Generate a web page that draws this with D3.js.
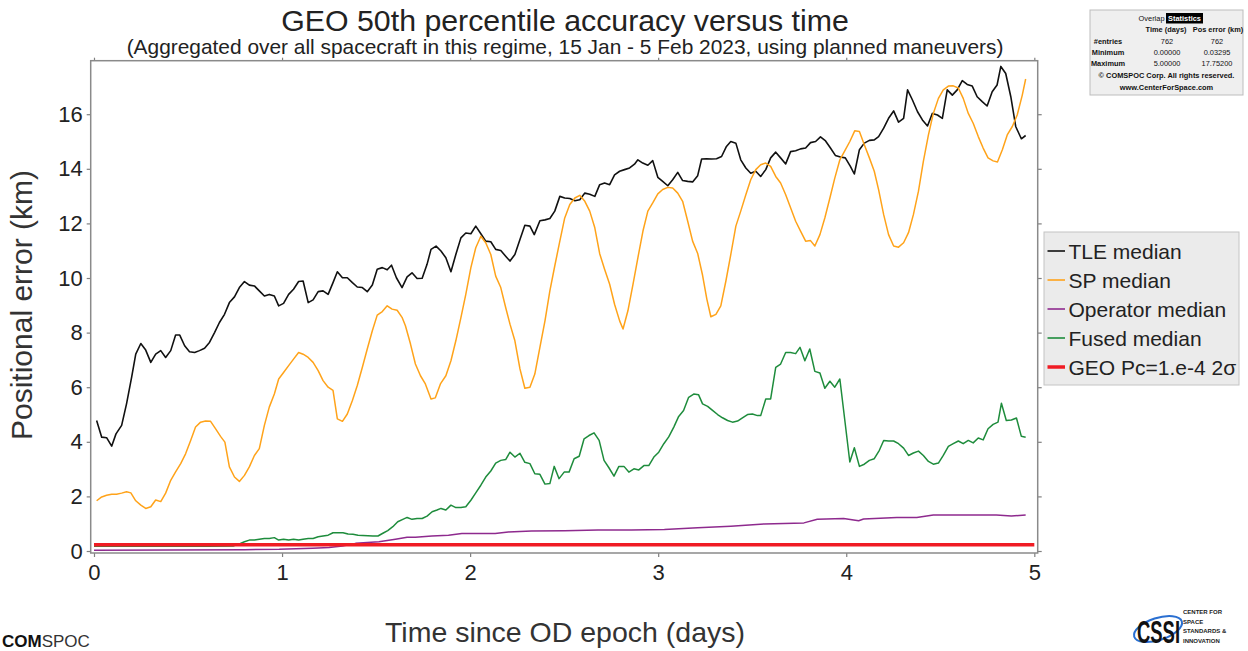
<!DOCTYPE html>
<html><head><meta charset="utf-8">
<script src="https://cdn.jsdelivr.net/npm/d3@7"></script>
<style>body{margin:0;background:#fff;} svg{display:block;}</style>
</head><body><svg id="chart" width="1248" height="651"></svg>
<script>
// ---------- DATA (days since OD epoch, positional error km) ----------
const tleMedian = [[0.014,4.78],[0.041,4.17],[0.067,4.15],[0.094,3.84],[0.117,4.29],[0.147,4.60],[0.173,5.39],[0.200,6.36],[0.222,7.21],[0.249,7.60],[0.275,7.36],[0.302,6.91],[0.328,7.21],[0.355,7.34],[0.381,7.09],[0.408,7.34],[0.434,7.91],[0.456,7.91],[0.482,7.52],[0.508,7.30],[0.535,7.27],[0.561,7.34],[0.588,7.43],[0.614,7.64],[0.641,8.00],[0.667,8.37],[0.694,8.67],[0.720,9.10],[0.747,9.31],[0.773,9.65],[0.800,9.87],[0.826,9.74],[0.853,9.71],[0.879,9.53],[0.906,9.34],[0.932,9.40],[0.959,9.34],[0.982,8.98],[1.008,9.07],[1.035,9.40],[1.061,9.59],[1.088,9.87],[1.112,9.89],[1.139,9.10],[1.165,9.20],[1.192,9.50],[1.218,9.53],[1.245,9.40],[1.271,9.83],[1.294,10.23],[1.321,10.01],[1.347,10.01],[1.374,9.83],[1.400,9.67],[1.427,9.65],[1.453,9.50],[1.480,9.74],[1.506,10.32],[1.533,10.38],[1.559,10.30],[1.582,10.47],[1.608,10.01],[1.638,9.65],[1.665,10.04],[1.691,10.19],[1.718,9.98],[1.745,9.99],[1.771,10.50],[1.792,11.05],[1.819,11.17],[1.845,10.99],[1.871,10.74],[1.898,10.23],[1.924,10.86],[1.951,11.47],[1.977,11.65],[2.004,11.62],[2.030,11.90],[2.057,11.62],[2.083,11.35],[2.110,11.33],[2.136,11.05],[2.163,11.01],[2.189,10.80],[2.212,10.62],[2.238,10.86],[2.265,11.41],[2.291,11.93],[2.318,11.90],[2.341,11.59],[2.371,12.10],[2.398,12.13],[2.424,12.18],[2.450,12.45],[2.477,12.99],[2.503,12.93],[2.530,12.91],[2.557,12.83],[2.583,12.87],[2.610,13.11],[2.636,13.07],[2.663,12.99],[2.689,13.42],[2.715,13.48],[2.742,13.42],[2.768,13.78],[2.795,13.91],[2.821,13.97],[2.848,14.03],[2.874,14.17],[2.892,14.33],[2.918,14.21],[2.945,14.13],[2.971,14.30],[2.998,13.69],[3.024,13.54],[3.051,13.38],[3.077,13.60],[3.104,13.87],[3.130,13.57],[3.157,13.54],[3.183,13.52],[3.210,13.75],[3.231,14.36],[3.257,14.37],[3.284,14.36],[3.310,14.37],[3.337,14.45],[3.363,14.82],[3.386,15.00],[3.413,14.94],[3.439,14.33],[3.466,14.03],[3.492,13.84],[3.519,13.91],[3.545,13.72],[3.572,13.97],[3.598,14.40],[3.625,14.61],[3.651,14.40],[3.678,14.18],[3.704,14.63],[3.731,14.66],[3.757,14.73],[3.784,14.76],[3.810,14.96],[3.837,15.00],[3.863,15.17],[3.890,15.02],[3.916,14.76],[3.942,14.49],[3.969,14.43],[3.995,14.40],[4.022,14.09],[4.043,13.81],[4.070,14.70],[4.096,14.94],[4.123,15.04],[4.149,15.06],[4.172,15.18],[4.199,15.49],[4.225,15.85],[4.252,16.12],[4.278,15.71],[4.305,15.85],[4.326,16.89],[4.352,16.52],[4.379,16.09],[4.405,15.79],[4.432,15.57],[4.458,16.03],[4.485,15.97],[4.511,15.85],[4.537,16.89],[4.564,16.70],[4.590,16.89],[4.617,17.23],[4.643,17.09],[4.670,17.03],[4.696,16.64],[4.723,16.46],[4.749,16.30],[4.776,16.82],[4.802,17.07],[4.822,17.75],[4.848,17.49],[4.875,16.64],[4.901,15.55],[4.931,15.10],[4.954,15.22]];

const spMedian = [[0.014,1.84],[0.041,1.98],[0.067,2.04],[0.094,2.08],[0.120,2.08],[0.147,2.12],[0.173,2.17],[0.196,2.13],[0.222,1.84],[0.249,1.68],[0.275,1.56],[0.302,1.62],[0.328,1.87],[0.355,1.81],[0.381,2.12],[0.408,2.59],[0.434,2.90],[0.461,3.20],[0.487,3.56],[0.514,4.05],[0.540,4.54],[0.567,4.72],[0.593,4.76],[0.620,4.75],[0.646,4.48],[0.673,4.20],[0.696,3.99],[0.720,3.08],[0.747,2.71],[0.773,2.55],[0.800,2.77],[0.826,3.08],[0.853,3.50],[0.879,3.75],[0.906,4.60],[0.932,5.27],[0.959,5.75],[0.982,6.30],[1.008,6.54],[1.035,6.79],[1.061,7.03],[1.088,7.27],[1.112,7.21],[1.139,7.09],[1.165,6.91],[1.192,6.61],[1.218,6.24],[1.245,6.00],[1.271,5.88],[1.294,4.84],[1.321,4.75],[1.347,5.02],[1.374,5.51],[1.400,6.06],[1.427,6.73],[1.453,7.40],[1.480,8.07],[1.506,8.64],[1.533,8.77],[1.559,8.98],[1.585,8.86],[1.612,8.82],[1.638,8.56],[1.656,8.25],[1.683,7.58],[1.709,6.85],[1.736,6.42],[1.762,6.12],[1.792,5.57],[1.815,5.61],[1.842,6.12],[1.871,6.42],[1.898,6.97],[1.924,7.70],[1.951,8.55],[1.977,9.40],[2.004,10.38],[2.030,11.11],[2.057,11.53],[2.083,11.29],[2.110,10.86],[2.136,10.07],[2.163,9.65],[2.189,8.92],[2.212,8.31],[2.238,7.70],[2.265,6.67],[2.291,5.96],[2.318,6.00],[2.344,6.48],[2.371,7.46],[2.398,8.43],[2.424,9.53],[2.450,10.44],[2.477,11.35],[2.503,12.20],[2.530,12.69],[2.557,12.93],[2.583,13.03],[2.610,12.81],[2.636,12.45],[2.663,11.84],[2.689,10.89],[2.715,10.32],[2.742,9.77],[2.768,9.04],[2.795,8.43],[2.813,8.13],[2.839,8.80],[2.866,9.77],[2.892,10.74],[2.919,11.72],[2.945,12.45],[2.971,12.75],[2.998,13.08],[3.024,13.24],[3.051,13.32],[3.077,13.30],[3.104,13.11],[3.130,12.81],[3.157,12.08],[3.183,11.35],[3.210,10.90],[3.236,10.10],[3.259,9.22],[3.280,8.58],[3.307,8.67],[3.333,8.98],[3.360,9.89],[3.386,10.86],[3.413,11.90],[3.439,12.45],[3.466,13.05],[3.492,13.60],[3.519,13.97],[3.545,14.15],[3.572,14.21],[3.598,14.09],[3.625,13.72],[3.651,13.48],[3.678,13.05],[3.704,12.57],[3.731,12.08],[3.757,11.72],[3.784,11.35],[3.810,11.37],[3.833,11.17],[3.860,11.59],[3.886,12.20],[3.913,12.93],[3.939,13.66],[3.966,14.33],[3.992,14.66],[4.019,15.00],[4.045,15.39],[4.070,15.37],[4.096,14.88],[4.123,14.40],[4.149,13.91],[4.172,13.24],[4.199,12.32],[4.225,11.59],[4.252,11.17],[4.278,11.13],[4.305,11.29],[4.331,11.66],[4.357,12.32],[4.384,13.18],[4.410,14.27],[4.437,15.24],[4.463,16.03],[4.490,16.58],[4.516,16.89],[4.543,17.03],[4.569,17.04],[4.596,16.96],[4.622,16.58],[4.649,16.03],[4.675,15.67],[4.702,15.18],[4.728,14.76],[4.754,14.40],[4.781,14.29],[4.804,14.25],[4.830,14.70],[4.856,15.24],[4.883,15.55],[4.909,15.97],[4.936,16.70],[4.954,17.29]];

const operatorMedian = [[0.000,0.03],[0.400,0.04],[0.800,0.05],[0.985,0.06],[1.162,0.10],[1.250,0.13],[1.321,0.18],[1.391,0.28],[1.515,0.34],[1.603,0.43],[1.665,0.50],[1.709,0.50],[1.797,0.55],[1.885,0.58],[1.956,0.64],[2.062,0.64],[2.133,0.64],[2.203,0.70],[2.327,0.73],[2.503,0.74],[2.680,0.77],[2.857,0.77],[3.033,0.79],[3.210,0.85],[3.386,0.91],[3.563,0.99],[3.775,1.03],[3.846,1.16],[3.986,1.19],[4.066,1.11],[4.092,1.17],[4.269,1.23],[4.375,1.23],[4.463,1.32],[4.622,1.32],[4.798,1.32],[4.878,1.28],[4.954,1.32]];

const fusedMedian = [[0.000,0.17],[0.200,0.17],[0.400,0.17],[0.600,0.17],[0.740,0.18],[0.773,0.26],[0.800,0.34],[0.826,0.40],[0.853,0.40],[0.879,0.43],[0.906,0.46],[0.932,0.46],[0.959,0.49],[0.982,0.40],[1.008,0.43],[1.035,0.40],[1.061,0.43],[1.088,0.40],[1.112,0.43],[1.139,0.46],[1.165,0.46],[1.192,0.52],[1.218,0.55],[1.245,0.58],[1.271,0.67],[1.298,0.67],[1.324,0.67],[1.351,0.62],[1.377,0.61],[1.404,0.58],[1.430,0.57],[1.457,0.56],[1.483,0.55],[1.510,0.55],[1.536,0.65],[1.562,0.75],[1.589,0.89],[1.615,1.07],[1.642,1.16],[1.665,1.23],[1.691,1.16],[1.718,1.19],[1.745,1.19],[1.771,1.28],[1.798,1.44],[1.824,1.50],[1.845,1.56],[1.871,1.50],[1.898,1.68],[1.924,1.59],[1.951,1.59],[1.977,1.62],[2.004,1.86],[2.030,2.13],[2.057,2.41],[2.083,2.71],[2.110,2.93],[2.136,3.22],[2.163,3.32],[2.189,3.35],[2.212,3.62],[2.238,3.44],[2.265,3.58],[2.291,3.25],[2.318,3.20],[2.344,2.83],[2.371,2.81],[2.398,2.45],[2.424,2.47],[2.447,3.10],[2.473,2.65],[2.500,2.89],[2.526,2.89],[2.553,3.38],[2.580,3.47],[2.606,4.11],[2.632,4.23],[2.659,4.33],[2.686,4.05],[2.712,3.32],[2.738,3.05],[2.765,2.74],[2.791,3.10],[2.818,3.10],[2.844,2.89],[2.871,3.01],[2.897,2.97],[2.924,3.13],[2.950,3.13],[2.977,3.44],[3.003,3.62],[3.030,3.93],[3.056,4.18],[3.083,4.54],[3.109,4.93],[3.135,5.15],[3.162,5.63],[3.189,5.75],[3.215,5.72],[3.236,5.39],[3.263,5.30],[3.289,5.15],[3.316,5.00],[3.342,4.88],[3.369,4.78],[3.395,4.72],[3.422,4.76],[3.448,4.88],[3.475,5.00],[3.501,5.02],[3.528,4.96],[3.545,4.96],[3.572,5.57],[3.598,5.57],[3.625,6.73],[3.651,6.85],[3.678,7.27],[3.704,7.27],[3.731,7.23],[3.754,7.46],[3.780,6.97],[3.806,7.40],[3.833,6.58],[3.860,6.52],[3.886,5.96],[3.913,6.22],[3.939,6.00],[3.966,6.30],[4.019,3.26],[4.043,3.78],[4.070,3.10],[4.096,3.18],[4.123,3.32],[4.149,3.38],[4.176,3.69],[4.199,4.05],[4.225,4.03],[4.252,4.03],[4.278,3.93],[4.305,3.77],[4.331,3.50],[4.357,3.59],[4.384,3.66],[4.410,3.50],[4.437,3.28],[4.463,3.18],[4.490,3.22],[4.516,3.50],[4.543,3.83],[4.569,3.93],[4.596,4.03],[4.622,3.93],[4.649,4.05],[4.675,3.96],[4.702,4.14],[4.728,4.07],[4.754,4.48],[4.781,4.64],[4.807,4.72],[4.825,5.41],[4.851,4.78],[4.878,4.80],[4.905,4.87],[4.931,4.20],[4.954,4.17]];

const geoPcThreshold = [[0,0.23],[5,0.23]];

const seriesNames = ["TLE median","SP median","Operator median","Fused median","GEO Pc=1.e-4 2σ"];
const seriesColors = ["#111111","#ffa31a","#8e2a8e","#1e8c3c","#f01c24"];
const seriesWidths = [1.6,1.5,1.5,1.5,3.5];
const xTickValues = [0,1,2,3,4,5];
const yTickValues = [0,2,4,6,8,10,12,14,16];

const statsHeader = ["Time (days)","Pos error (km)"];
const statsRows = [["#entries","762","762"],["Minimum","0.00000","0.03295"],["Maximum","5.00000","17.75200"]];
const cssiLines = ["CENTER FOR","SPACE","STANDARDS &","INNOVATION"];

// ---------- DRAW ----------
const svg = d3.select("#chart");
const FONT = "'Liberation Sans', Arial, sans-serif";
const x = d3.scaleLinear().domain([-0.0175, 5.018]).range([90.7, 1037.7]);
const y = d3.scaleLinear().domain([-0.073, 17.96]).range([553, 60.7]);

svg.append("rect").attr("width",1248).attr("height",651).attr("fill","#fff");

// titles
svg.append("text").attr("x",565).attr("y",31).attr("text-anchor","middle")
  .attr("font-family",FONT).attr("font-size",30.3).attr("fill","#222")
  .text("GEO 50th percentile accuracy versus time");
svg.append("text").attr("x",565).attr("y",54).attr("text-anchor","middle")
  .attr("font-family",FONT).attr("font-size",20.9).attr("fill","#222")
  .text("(Aggregated over all spacecraft in this regime, 15 Jan - 5 Feb 2023, using planned maneuvers)");

// axes
const axisStyle = g => {
  g.selectAll(".domain").remove();
  g.selectAll(".tick line").attr("stroke","#808080").attr("stroke-width",1.2);
  g.selectAll(".tick text").attr("font-family",FONT).attr("font-size",22).attr("fill","#222");
};
svg.append("g").attr("transform","translate(90.7,0)")
  .call(d3.axisLeft(y).tickValues(yTickValues).tickSize(4).tickPadding(4).tickFormat(d3.format("d")))
  .call(axisStyle);
svg.append("g").attr("transform","translate(0,553)")
  .call(d3.axisBottom(x).tickValues(xTickValues).tickSize(4).tickPadding(7).tickFormat(d3.format("d")))
  .call(axisStyle);
svg.append("g").attr("transform","translate(0,60.7)")
  .call(d3.axisTop(x).tickValues(xTickValues).tickSize(3).tickFormat(""))
  .call(axisStyle);
svg.append("g").attr("transform","translate(1037.7,0)")
  .call(d3.axisRight(y).tickValues(yTickValues).tickSize(4).tickFormat(""))
  .call(axisStyle);

// clip
svg.append("clipPath").attr("id","plotclip").append("rect")
  .attr("x",91.5).attr("y",61.5).attr("width",1037.7-91.5-0.8).attr("height",553-61.5-0.8);

const line = d3.line().x(d=>x(d[0])).y(d=>y(d[1]));
const allSeries = [tleMedian, spMedian, operatorMedian, fusedMedian, geoPcThreshold];
const plot = svg.append("g").attr("clip-path","url(#plotclip)");
plot.selectAll("path.series").data(allSeries).join("path")
  .attr("class","series")
  .attr("d",line)
  .attr("fill","none")
  .attr("stroke",(d,i)=>seriesColors[i])
  .attr("stroke-width",(d,i)=>seriesWidths[i])
  .attr("stroke-linejoin","round");

// frame
svg.append("rect").attr("x",90.7).attr("y",60.7).attr("width",1037.7-90.7).attr("height",553-60.7)
  .attr("fill","none").attr("stroke","#8a8a8a").attr("stroke-width",1.5);

// axis labels
svg.append("text").attr("transform","translate(32,305) rotate(-90)").attr("text-anchor","middle")
  .attr("font-family",FONT).attr("font-size",30).attr("fill","#333")
  .text("Positional error (km)");
svg.append("text").attr("x",565).attr("y",642).attr("text-anchor","middle")
  .attr("font-family",FONT).attr("font-size",28.5).attr("fill","#333")
  .text("Time since OD epoch (days)");

// legend
const lg = svg.append("g");
lg.append("rect").attr("x",1044).attr("y",232).attr("width",195).attr("height",153)
  .attr("fill","#ebebeb").attr("stroke","#c4c4c4").attr("stroke-width",1);
seriesNames.forEach((name,i)=>{
  const cy = 251 + i*29;
  lg.append("line").attr("x1",1047.5).attr("x2",1065).attr("y1",cy).attr("y2",cy)
    .attr("stroke",seriesColors[i]).attr("stroke-width",i===4?3.5:1.6);
  lg.append("text").attr("x",1068.5).attr("y",cy+7.5).attr("font-family",FONT)
    .attr("font-size",21).attr("fill","#222").text(name);
});

// stats box
const sb = svg.append("g").attr("font-family",FONT).attr("font-size",7.4).attr("fill","#111");
sb.append("rect").attr("x",1090).attr("y",10).attr("width",153).attr("height",85)
  .attr("fill","#efefef").attr("stroke","#bdbdbd").attr("stroke-width",1);
sb.append("text").attr("x",1164.5).attr("y",21).attr("text-anchor","end").text("Overlap");
sb.append("rect").attr("x",1166).attr("y",13).attr("width",37).attr("height",10.5).attr("fill","#000");
sb.append("text").attr("x",1184.5).attr("y",21).attr("text-anchor","middle")
  .attr("fill","#fff").attr("font-weight","bold").text("Statistics");
sb.append("text").attr("x",1166).attr("y",32).attr("text-anchor","middle").attr("font-weight","bold").text(statsHeader[0]);
sb.append("text").attr("x",1218).attr("y",32).attr("text-anchor","middle").attr("font-weight","bold").text(statsHeader[1]);
statsRows.forEach((r,i)=>{
  const yy = 44 + i*11;
  sb.append("text").attr("x",1108).attr("y",yy).attr("text-anchor","middle").attr("font-weight","bold").text(r[0]);
  sb.append("text").attr("x",1167).attr("y",yy).attr("text-anchor","middle").text(r[1]);
  sb.append("text").attr("x",1217).attr("y",yy).attr("text-anchor","middle").text(r[2]);
});
sb.append("text").attr("x",1166.5).attr("y",78).attr("text-anchor","middle").attr("font-weight","bold").text("© COMSPOC Corp. All rights reserved.");
sb.append("text").attr("x",1166.5).attr("y",90).attr("text-anchor","middle").attr("font-weight","bold").text("www.CenterForSpace.com");

// COMSPOC logo
const cl = svg.append("text").attr("x",2).attr("y",647).attr("font-family",FONT).attr("font-size",17).attr("fill","#111");
cl.append("tspan").attr("font-weight","bold").text("COM");
cl.append("tspan").attr("font-weight","300").attr("fill","#333").text("SPOC");

// CSSI logo
const cs = svg.append("g");
cs.append("ellipse").attr("cx",1158).attr("cy",629).attr("rx",25).attr("ry",11)
  .attr("transform","rotate(-18,1158,629)").attr("fill","none").attr("stroke","#2a6fd1").attr("stroke-width",2);
cs.append("text").attr("x",1137).attr("y",643).attr("font-family",FONT).attr("font-weight","bold")
  .attr("font-size",31).attr("fill","#111").attr("textLength",43).attr("lengthAdjust","spacingAndGlyphs").text("CSSI");
cssiLines.forEach((t,i)=>{
  cs.append("text").attr("x",1183).attr("y",614+i*9.5).attr("font-family",FONT).attr("font-size",6)
    .attr("font-weight","bold").attr("fill","#222").text(t);
});
</script></body></html>
